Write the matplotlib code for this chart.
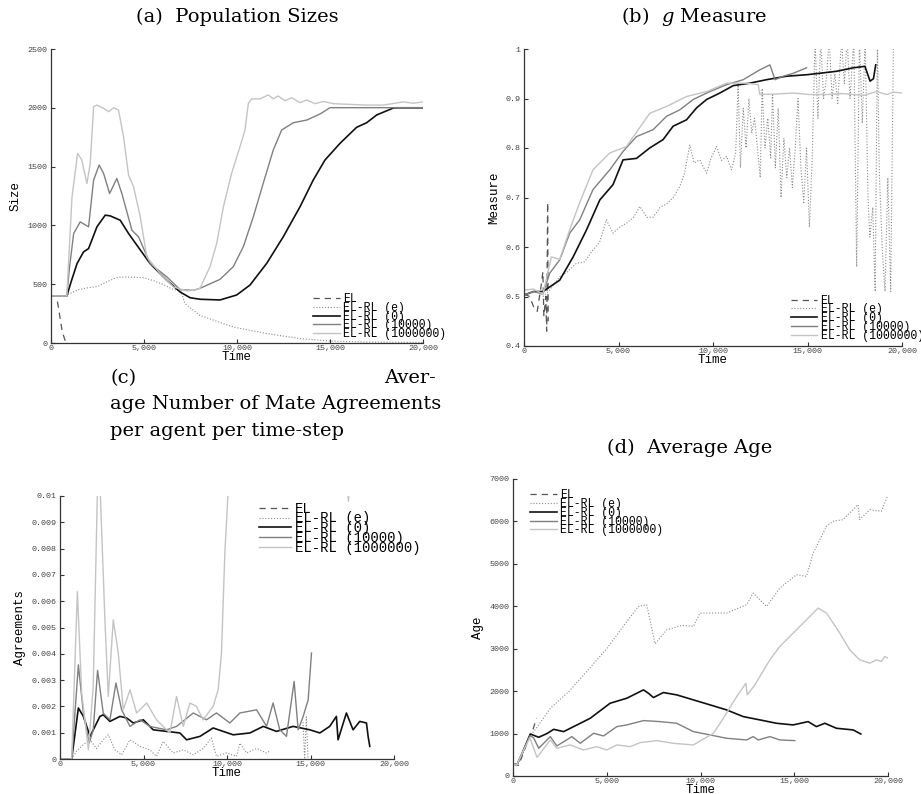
import numpy as np
import matplotlib
matplotlib.use("Agg")
import matplotlib.pyplot as plt
from matplotlib.ticker import FuncFormatter

# ---------------------------------
# Data
# ---------------------------------
labels = ["EL", "EL-RL (e)", "EL-RL (0)", "EL-RL (10000)", "EL-RL (1000000)"]

# (a) Population sizes
pop_el_t = [0, 300, 450, 600, 800]
pop_el_v = [400, 400, 250, 100, 0]
pop_e_t = [0, 800, 1000, 1500, 2000, 2500, 3000, 3500, 4000, 5000, 5500, 6000, 6500, 7000,
           7200, 8000, 9000, 9800, 11600, 13400, 15000, 17000, 20000]
pop_e_v = [400, 400, 420, 455, 470, 480, 520, 555, 562, 555, 530, 500, 460, 440,
           335, 235, 180, 136, 80, 37, 17, 8, 5]
pop_0_t = [0, 850, 1100, 1400, 1750, 2020, 2470, 2915, 3180, 3720, 4170, 4620, 5330, 6230,
           6940, 7480, 8010, 9086, 9980, 10700, 11600, 12490, 13390, 14100, 14730, 15540,
           16430, 16970, 17510, 18400, 18580, 20000]
pop_0_v = [400, 400, 530, 675, 775, 803, 988, 1087, 1081, 1044, 931, 831, 675, 533,
           434, 385, 372, 366, 408, 493, 678, 904, 1159, 1386, 1556, 1698,
           1834, 1873, 1939, 1998, 2000, 2000]
pop_1e4_t = [0, 850, 1000, 1220, 1570, 2020, 2290, 2590, 2830, 3150, 3540, 3810, 4350, 4710,
             5330, 6230, 6940, 7660, 8010, 9086, 9800, 10340, 10880, 11410, 11950, 12400,
             13030, 13750, 14460, 15000, 20000]
pop_1e4_v = [400, 400, 650, 931, 1030, 988, 1385, 1513, 1441, 1271, 1399, 1271, 959, 902,
             675, 562, 454, 448, 465, 541, 649, 819, 1074, 1358, 1641, 1811,
             1873, 1896, 1947, 2001, 2001]
pop_1e6_t = [0, 850, 1130, 1430, 1660, 1930, 2110, 2290, 2470, 2830, 3100, 3360, 3630, 3900,
             4170, 4440, 4800, 5150, 5870, 6580, 7300, 7660, 8010, 8550, 8910, 9270, 9710,
             10160, 10430, 10610, 10790, 11250, 11680, 11950, 12220, 12580, 12940, 13390,
             13750, 14190, 14640, 15180, 16070, 16970, 17860, 18940, 19480, 20000]
pop_1e6_v = [400, 400, 1243, 1612, 1555, 1356, 1527, 2009, 2023, 1995, 1967, 2000, 1981, 1754,
             1427, 1328, 1072, 732, 590, 477, 443, 448, 465, 649, 848, 1159, 1443,
             1669, 1811, 2038, 2075, 2077, 2109, 2077, 2100, 2060, 2086, 2044,
             2067, 2035, 2054, 2035, 2029, 2023, 2023, 2050, 2039, 2050]

# (b) g measure
g_el_t = [0, 300, 500, 700, 900, 1000, 1050, 1150, 1200, 1250, 1280]
g_el_v = [0.505, 0.50, 0.48, 0.47, 0.52, 0.55, 0.46, 0.50, 0.43, 0.69, 0.45]
g_e_t = [1000, 1300, 1890, 2300, 2770, 3200, 3650, 4000, 4360, 4710, 5050, 5420, 5800, 6130,
         6500, 6830, 7200, 7540, 7900, 8240, 8500, 8770, 9000, 9300, 9660, 9900, 10190,
         10450, 10720, 10980, 11200, 11330, 11450, 11600, 11750, 11900, 12050, 12200, 12350,
         12500, 12600, 12750, 12900, 13050, 13150, 13300, 13450, 13600, 13750, 13900, 14050,
         14200, 14350, 14500, 14650, 14800, 14950, 15100, 15250, 15400, 15550, 15700, 15850,
         16000, 16150, 16300, 16450, 16600, 16800, 16950, 17100, 17250, 17450, 17600, 17750,
         17900, 18050, 18200, 18300, 18450, 18580, 18700, 18800, 18950, 19100, 19250, 19400,
         19550, 19720]
g_e_v = [0.50, 0.51, 0.54, 0.55, 0.567, 0.57, 0.594, 0.61, 0.655, 0.628, 0.64, 0.648, 0.66,
         0.682, 0.66, 0.66, 0.68, 0.687, 0.70, 0.722, 0.75, 0.806, 0.77, 0.776, 0.749, 0.78,
         0.803, 0.775, 0.783, 0.756, 0.79, 0.93, 0.76, 0.88, 0.80, 0.90, 0.83, 0.86, 0.80,
         0.74, 0.92, 0.80, 0.86, 0.78, 0.91, 0.76, 0.88, 0.70, 0.82, 0.74, 0.80,
         0.72, 0.80, 0.90, 0.76, 0.69, 0.80, 0.64, 0.78, 1.02, 0.86, 1.02, 0.90,
         0.94, 1.02, 0.90, 0.95, 0.89, 1.02, 0.93, 1.02, 0.90, 1.02, 0.56, 1.02,
         0.85, 1.02, 0.70, 0.62, 0.68, 0.51, 1.02, 0.75, 0.60, 0.51, 0.74, 0.51,
         1.02, 1.02]
g_0_t = [0, 500, 1000, 1270, 1890, 2600, 3300, 4010, 4710, 5240, 5950, 6650, 7360, 7890, 8600,
         9130, 9660, 10360, 11070, 11950, 12830, 13890, 14950, 15660, 16540, 17420, 18040,
         18310, 18490, 18610]
g_0_v = [0.503, 0.51, 0.51, 0.517, 0.533, 0.58, 0.634, 0.695, 0.726, 0.776, 0.779, 0.80,
         0.817, 0.844, 0.857, 0.881, 0.898, 0.911, 0.926, 0.931, 0.938, 0.945, 0.948, 0.951,
         0.955, 0.962, 0.965, 0.935, 0.94, 0.968]
g_1e4_t = [0, 500, 1000, 1360, 1890, 2420, 2950, 3650, 4540, 5240, 5950, 6830, 7540, 8240,
           8950, 9830, 10720, 11600, 12480, 13010, 13280, 13720, 14250, 14950]
g_1e4_v = [0.503, 0.51, 0.505, 0.547, 0.574, 0.628, 0.655, 0.716, 0.756, 0.793, 0.823,
           0.837, 0.864, 0.877, 0.898, 0.914, 0.928, 0.938, 0.958, 0.968, 0.938, 0.945,
           0.951, 0.962]
g_1e6_t = [0, 500, 1000, 1450, 1890, 2420, 2950, 3650, 4540, 5420, 6650, 7540, 8600, 9660,
           10720, 11770, 12390, 12480, 13300, 14250, 15130, 16010, 16900, 17960, 18660,
           19190, 19540, 20000]
g_1e6_v = [0.513, 0.515, 0.505, 0.58, 0.575, 0.635, 0.69, 0.756, 0.79, 0.803, 0.87, 0.884,
           0.904, 0.914, 0.931, 0.931, 0.928, 0.908, 0.909, 0.911, 0.908, 0.908, 0.91,
           0.906, 0.914, 0.908, 0.913, 0.911]

# (c) Mate agreements
ag_el_t = [0, 800]
ag_el_v = [0, 0]
ag_e_t = [0, 700, 1000, 1400, 1800, 2190, 2590, 2890, 3290, 3690, 4190, 4790, 5380, 5780,
          6180, 6780, 7380, 7980, 8570, 9070, 9370, 9970, 10570, 10770, 11170, 11770, 12370,
          12570, 14400, 14550, 14650, 14750, 14850]
ag_e_v = [0, 0, 0.0003, 0.00055, 0.00073, 0.0004, 0.00073, 0.00092, 0.00035, 0.00016,
          0.00073, 0.00048, 0.00035, 0.0001, 0.00067, 0.00023, 0.00035, 0.00016, 0.0004,
          0.0008, 0.0001, 0.00023, 0.0001, 0.0006, 0.00023, 0.0004, 0.00023,
          0.0003, np.nan, 0.0014, 0.0, 0.0016, 0.0]
ag_0_t = [0, 700, 1100, 1400, 1800, 2390, 2590, 2990, 3590, 3990, 4390, 4990, 5580, 6380,
          7180, 7580, 8380, 9170, 10370, 11370, 12170, 12960, 13960, 14960, 15560, 16150,
          16550, 16650, 17150, 17550, 17950, 18350, 18450, 18550]
ag_0_v = [0, 0, 0.00194, 0.00162, 0.00086, 0.00162, 0.00168, 0.00143, 0.00162, 0.00156,
          0.00137, 0.00149, 0.00111, 0.00105, 0.00099, 0.00073, 0.00086, 0.00118, 0.00092,
          0.00099, 0.00124, 0.00105, 0.00124, 0.00111, 0.00099, 0.00124, 0.00162, 0.00073,
          0.00175, 0.00111, 0.00143, 0.00137, 0.00086, 0.00048]
ag_1e4_t = [0, 700, 1100, 1400, 1750, 1990, 2250, 2590, 2990, 3350, 3690, 4190, 4790, 5380,
            6380, 6980, 7980, 8770, 9370, 10170, 10770, 11770, 12370, 12760, 13160, 13560,
            14020, 14260, 14560, 14860, 15060]
ag_1e4_v = [0, 0, 0.00358, 0.00174, 0.00061, 0.00111, 0.00337, 0.00174, 0.00149, 0.00289,
            0.00187, 0.00124, 0.00149, 0.00124, 0.00111, 0.00124, 0.00175, 0.00149, 0.00175,
            0.00137, 0.00175, 0.00187, 0.00124, 0.00213, 0.00111, 0.00086, 0.00295, 0.00111,
            0.00162, 0.00225, 0.00403]
ag_1e6_t = [0, 700, 1040, 1300, 1700, 1990, 2250, 2390, 2690, 2890, 3190, 3490, 3790, 4190,
            4590, 5190, 5780, 6580, 6980, 7380, 7780, 8170, 8570, 9170, 9470, 9670, 9870,
            10070, 10300, 17000, 17270, 17500]
ag_1e6_v = [0, 0, 0.00637, 0.0025, 0.00035, 0.00276, 0.0105, 0.0105, 0.00529, 0.00238,
            0.00529, 0.00403, 0.00187, 0.00263, 0.00175, 0.00213, 0.00149, 0.00099, 0.00238,
            0.00124, 0.00213, 0.002, 0.00149, 0.002, 0.00263, 0.00403, 0.00782, 0.0102,
            0.015, 0.012, 0.0098, 0.012]

# (d) Average age
age_el_t = [0, 300, 600, 900, 1000, 1250]
age_el_v = [300, 250, 600, 950, 1000, 1360]
age_e_t = [0, 200, 500, 900, 1200, 2000, 3000, 4000, 5000, 6000, 6700, 7130, 7580, 8200,
           9000, 9620, 9970, 11390, 12460, 12810, 13520, 14230, 15120, 15650, 16010, 16720,
           17080, 17600, 18400, 18490, 19030, 19650, 19970]
age_e_v = [300, 260, 500, 950, 1100, 1600, 2000, 2500, 3000, 3600, 4000, 4036, 3115, 3446,
           3550, 3525, 3840, 3840, 4036, 4312, 3997, 4430, 4744, 4705, 5256, 5885,
           6003, 6042, 6396, 6042, 6278, 6239, 6593]
age_0_t = [0, 200, 500, 920, 1370, 1810, 2170, 2700, 3410, 4120, 5180, 6070, 6960, 7220,
           7490, 8020, 8730, 9620, 10510, 11390, 12280, 13170, 14050, 14940, 15740, 16180,
           16630, 17250, 18140, 18550]
age_0_v = [300, 250, 550, 990, 913, 1000, 1100, 1046, 1203, 1361, 1715, 1833, 2030, 1951,
           1849, 1967, 1912, 1794, 1676, 1558, 1400, 1322, 1243, 1204, 1282, 1164,
           1243, 1125, 1086, 991]
age_1e4_t = [0, 200, 500, 900, 1100, 1370, 1990, 2340, 3140, 3590, 4300, 4830, 5540, 6070,
             6960, 7840, 8730, 9620, 10510, 11390, 12460, 12810, 13080, 13700, 14230, 15030]
age_1e4_v = [300, 250, 550, 950, 900, 653, 928, 708, 928, 771, 1007, 944, 1164, 1204,
             1306, 1282, 1243, 1046, 968, 889, 850, 928, 850, 928, 850, 834]
age_1e6_t = [0, 200, 500, 900, 1280, 1990, 2340, 3050, 3760, 4470, 5000, 5540, 6250, 6780,
             7670, 8550, 9620, 10690, 11220, 11930, 12420, 12490, 12900, 13700, 14230, 14940,
             15650, 16270, 16720, 17430, 17960, 18490, 19030, 19380, 19650, 19830, 20000]
age_1e6_v = [300, 250, 550, 900, 440, 850, 653, 732, 614, 692, 614, 732, 692, 787,
             834, 771, 732, 1007, 1361, 1873, 2187, 1912, 2148, 2738, 3053, 3367,
             3682, 3957, 3840, 3367, 2974, 2738, 2659, 2738, 2700, 2817, 2777]

# ---------------------------------
# Styles
# ---------------------------------
styles = [
    dict(color="#555555", linestyle=(0, (5, 4)), linewidth=0.9),
    dict(color="#8a8a8a", linestyle=(0, (1, 1.6)), linewidth=0.8),
    dict(color="#111111", linestyle="-", linewidth=1.2),
    dict(color="#808080", linestyle="-", linewidth=1.0),
    dict(color="#c4c4c4", linestyle="-", linewidth=1.0),
]
mono = "Liberation Mono"
serif = "DejaVu Serif"
plt.rcParams["mathtext.fontset"] = "dejavuserif"

fig = plt.figure(figsize=(9.21, 7.94), dpi=100)
W, H = 921, 794


def make_axes(left, right, top, bottom):
    return fig.add_axes([left / W, 1 - bottom / H, (right - left) / W, (bottom - top) / H])


def style_axes(ax, ylabel):
    for s in ["top", "right"]:
        ax.spines[s].set_visible(False)
    for s in ["left", "bottom"]:
        ax.spines[s].set_color("#333333")
        ax.spines[s].set_linewidth(0.9)
    ax.tick_params(direction="in", length=3, width=0.8, color="#333333",
                   labelsize=6, labelcolor="#444444")
    ax.tick_params(axis="x", pad=1.5)
    ax.tick_params(axis="y", pad=2.5)
    for lab in ax.get_xticklabels() + ax.get_yticklabels():
        lab.set_family(mono)
    ax.set_xlim(0, 20000)
    ax.set_xticks([0, 5000, 10000, 15000, 20000])
    ax.xaxis.set_major_formatter(FuncFormatter(lambda x, p: f"{x:,.0f}"))
    ax.set_xlabel("Time", family=mono, fontsize=9, labelpad=-1)
    ax.set_ylabel(ylabel, family=mono, fontsize=9)


def draw(ax, series):
    for (t, v), lab, st in zip(series, labels, styles):
        ax.plot(t, v, label=lab, **st)


def add_legend(ax, loc, anchor, size=8.3, spacing=-0.28):
    ax.legend(loc=loc, bbox_to_anchor=anchor, frameon=False,
              prop={"family": mono, "size": size}, labelspacing=spacing,
              handlelength=2.3, handletextpad=0.3, borderpad=0)


# ---- (a) ----
ax1 = make_axes(51, 423, 49, 343)
draw(ax1, [(pop_el_t, pop_el_v), (pop_e_t, pop_e_v), (pop_0_t, pop_0_v),
           (pop_1e4_t, pop_1e4_v), (pop_1e6_t, pop_1e6_v)])
ax1.set_ylim(0, 2500)
ax1.set_yticks(range(0, 2501, 500))
style_axes(ax1, "Size")
add_legend(ax1, "lower left", (0.69, -0.01))

# ---- (b) ----
ax2 = make_axes(524, 902, 49, 346)
draw(ax2, [(g_el_t, g_el_v), (g_e_t, g_e_v), (g_0_t, g_0_v),
           (g_1e4_t, g_1e4_v), (g_1e6_t, g_1e6_v)])
ax2.set_ylim(0.4, 1.0)
ax2.set_yticks([0.4, 0.5, 0.6, 0.7, 0.8, 0.9, 1.0])
ax2.set_yticklabels(["0.4", "0.5", "0.6", "0.7", "0.8", "0.9", "1"])
style_axes(ax2, "Measure")
add_legend(ax2, "lower left", (0.69, -0.005))

# ---- (c) ----
ax3 = make_axes(60, 394, 496, 759)
draw(ax3, [(ag_el_t, ag_el_v), (ag_e_t, ag_e_v), (ag_0_t, ag_0_v),
           (ag_1e4_t, ag_1e4_v), (ag_1e6_t, ag_1e6_v)])
ax3.set_ylim(0, 0.01)
yt = [i / 1000 for i in range(11)]
ax3.set_yticks(yt)
ax3.set_yticklabels(["0"] + [f"{v:.3f}" for v in yt[1:10]] + ["0.01"])
style_axes(ax3, "Agreements")
add_legend(ax3, "upper left", (0.575, 1.005), size=10, spacing=-0.3)

# ---- (d) ----
ax4 = make_axes(513, 888, 479, 776)
draw(ax4, [(age_el_t, age_el_v), (age_e_t, age_e_v), (age_0_t, age_0_v),
           (age_1e4_t, age_1e4_v), (age_1e6_t, age_1e6_v)])
ax4.set_ylim(0, 7000)
ax4.set_yticks(range(0, 7001, 1000))
style_axes(ax4, "Age")
add_legend(ax4, "upper left", (0.03, 0.985))

# ---- titles ----
tsize = 14
fig.text(237 / W, 1 - 17 / H, "(a)  Population Sizes", family=serif, fontsize=tsize,
         ha="center", va="center")
fig.text(694 / W, 1 - 17 / H, "(b)  $g$ Measure", family=serif, fontsize=tsize,
         ha="center", va="center")
fig.text(110 / W, 1 - 378 / H, "(c)", family=serif, fontsize=tsize, ha="left", va="center")
fig.text(436 / W, 1 - 378 / H, "Aver-", family=serif, fontsize=tsize, ha="right", va="center")
fig.text(110 / W, 1 - 404 / H, "age Number of Mate Agreements", family=serif,
         fontsize=tsize, ha="left", va="center")
fig.text(110 / W, 1 - 431 / H, "per agent per time-step", family=serif, fontsize=tsize,
         ha="left", va="center")
fig.text(690 / W, 1 - 448 / H, "(d)  Average Age", family=serif, fontsize=tsize,
         ha="center", va="center")

fig.savefig("out.png", dpi=100)
